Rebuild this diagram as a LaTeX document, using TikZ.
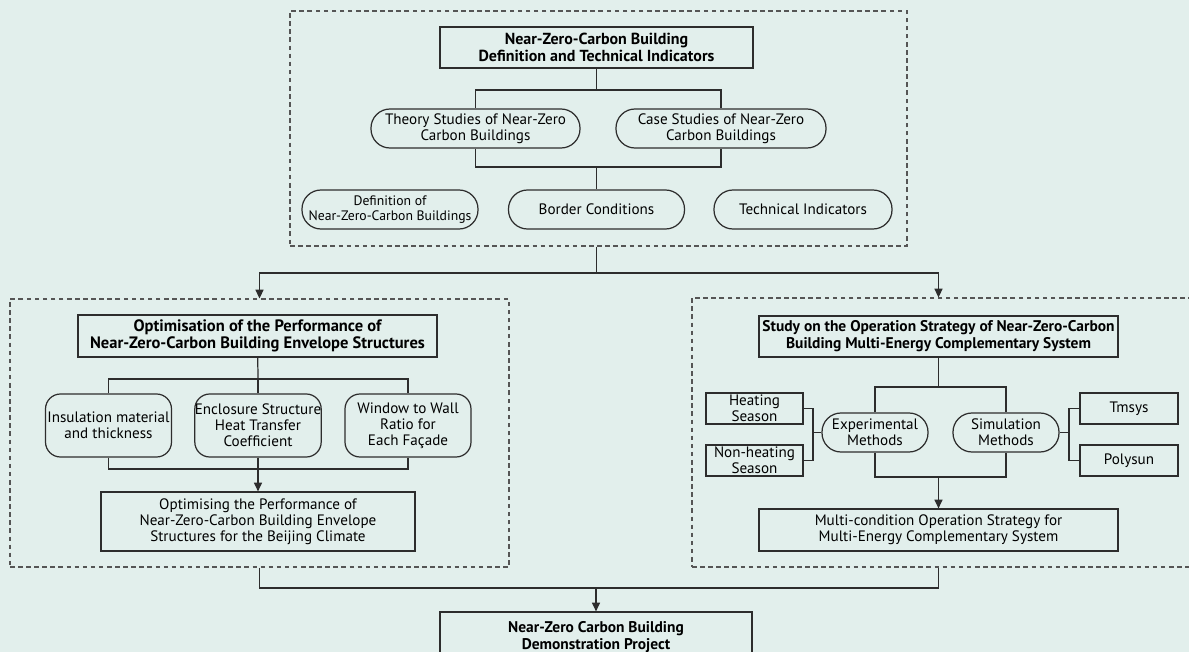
\documentclass[tikz,border=0pt]{standalone}
\usepackage{fontspec}
\setmainfont{PT Sans}
\usetikzlibrary{arrows.meta}
\definecolor{bgmint}{RGB}{226,239,236}
\definecolor{inkgray}{RGB}{45,45,45}
\definecolor{dashgray}{RGB}{85,85,85}
\tikzset{
    frame/.style={draw=dashgray, line width=0.6pt, dash pattern=on 2.6pt off 2pt, inner sep=0pt},
    headbox/.style={draw=inkgray, line width=0.7pt, align=center, inner sep=0pt, font=\bfseries\fontsize{8.8}{9.6}\selectfont},
    plainbox/.style={draw=inkgray, line width=0.7pt, align=center, inner sep=0pt, font=\fontsize{8.6}{9}\selectfont},
    pill/.style={plainbox, rounded corners=3.8mm, minimum height=7.8mm},
    roundbox/.style={plainbox, rounded corners=3mm, minimum width=25.2mm, minimum height=12.6mm},
    link/.style={draw=inkgray, line width=0.7pt},
    arr/.style={link, -{Triangle[length=5pt,width=4.6pt]}}
}
\begin{document}
\begin{tikzpicture}[x=0.2mm, y=-0.2mm]
    \useasboundingbox (0,0) rectangle (1189,652);
    \clip (0,0) rectangle (1189,652);
    \fill[bgmint] (0,0) rectangle (1189,652);
    \node[frame, minimum width=123.4mm, minimum height=47mm] (topframe) at (598.5,128.5) {};
    \node[frame, minimum width=99.8mm, minimum height=53.6mm] (leftframe) at (259.5,433) {};
    \node[frame, minimum width=101.6mm, minimum height=53.8mm] (rightframe) at (946,432.5) {};
    \node[headbox, font=\bfseries\fontsize{9.1}{9.6}\selectfont, minimum width=62.6mm, minimum height=8.2mm] (nzcb) at (596.5,47.5) {Near-Zero-Carbon Building\\Definition and Technical Indicators};
    \node[pill, minimum width=41.8mm] (theory) at (475.5,128.5) {Theory Studies of Near-Zero\\Carbon Buildings};
    \node[pill, minimum width=42mm] (case) at (721,128.5) {Case Studies of Near-Zero\\Carbon Buildings};
    \node[pill, font=\fontsize{7.8}{8.4}\selectfont, minimum width=35.2mm] (defn) at (390,209.5) {Definition of\\Near-Zero-Carbon Buildings};
    \node[pill, minimum width=35.2mm] (border) at (596.5,209.5) {Border Conditions};
    \node[pill, minimum width=35.6mm] (techind) at (803,209.5) {Technical Indicators};
    \node[headbox, font=\bfseries\fontsize{9.4}{9.8}\selectfont, minimum width=71.8mm, minimum height=8.4mm] (envtitle) at (257.5,336) {Optimisation of the Performance of\\Near-Zero-Carbon Building Envelope Structures};
    \node[roundbox] (insul) at (108.5,425.5) {Insulation material\\and thickness};
    \node[roundbox] (encl) at (258,425.5) {Enclosure Structure\\Heat Transfer\\Coefficient};
    \node[roundbox] (window) at (408,425.5) {Window to Wall\\Ratio for\\Each Façade};
    \node[plainbox, minimum width=62.8mm, minimum height=11.8mm] (envopt) at (258,521.5) {Optimising the Performance of\\Near-Zero-Carbon Building Envelope\\Structures for the Beijing Climate};
    \node[headbox, minimum width=71.8mm, minimum height=8.2mm] (systitle) at (938.5,336.5) {Study on the Operation Strategy of Near-Zero-Carbon\\Building Multi-Energy Complementary System};
    \node[pill, minimum width=21.2mm] (exper) at (875,432.5) {Experimental\\Methods};
    \node[pill, minimum width=21.2mm] (simul) at (1006,432.5) {Simulation\\Methods};
    \node[plainbox, minimum width=19.4mm, minimum height=6.2mm] (heat) at (754.5,408.5) {Heating\\Season};
    \node[plainbox, minimum width=19.4mm, minimum height=6.2mm] (nonheat) at (754.5,460.5) {Non-heating\\Season};
    \node[plainbox, minimum width=19.6mm, minimum height=6.2mm] (tmsys) at (1129,408.5) {Tmsys};
    \node[plainbox, minimum width=19.6mm, minimum height=6.2mm] (polysun) at (1129,460.5) {Polysun};
    \node[plainbox, minimum width=71.8mm, minimum height=8.4mm] (strategy) at (938.5,530) {Multi-condition Operation Strategy for\\Multi-Energy Complementary System};
    \node[headbox, minimum width=62.4mm, minimum height=10mm] (demo) at (596,637) {Near-Zero Carbon Building\\Demonstration Project};
    \coordinate (topfork) at (596.5,90);
    \coordinate (topjoin) at (596.5,167);
    \coordinate (split) at (596.5,273);
    \coordinate (envfork) at (258,379);
    \coordinate (envjoin) at (258,469);
    \coordinate (sysfork) at (938.5,387);
    \coordinate (sysjoin) at (938.5,477);
    \coordinate (seasonbar) at (813,432.5);
    \coordinate (toolbar) at (1069,432.5);
    \coordinate (merge) at (596,588);
    \draw[link] (nzcb) -- (topfork);
    \draw[link] (theory) |- (topfork) -| (case);
    \draw[link] (theory) |- (topjoin) -| (case);
    \draw[link] (topjoin) -- (border);
    \draw[link] (topframe.south -| split) -- (split);
    \draw[arr] (split) -| (leftframe.north);
    \draw[arr] (split) -| (rightframe.north -| systitle);
    \draw[link] (envtitle) -- (envfork);
    \draw[link] (insul) |- (envfork) -| (window);
    \draw[link] (envfork) -- (encl);
    \draw[link] (insul) |- (envjoin) -| (window);
    \draw[link] (encl) -- (envjoin);
    \draw[arr] (envjoin) -- (envopt);
    \draw[link] (systitle) -- (sysfork);
    \draw[link] (exper) |- (sysfork) -| (simul);
    \draw[link] (exper) |- (sysjoin) -| (simul);
    \draw[arr] (sysjoin) -- (strategy);
    \draw[link] (heat.east) -| (seasonbar) |- (nonheat.east);
    \draw[link] (seasonbar) -- (exper);
    \draw[link] (tmsys.west) -| (toolbar) |- (polysun.west);
    \draw[link] (toolbar) -- (simul);
    \draw[link] (leftframe.south) |- (merge) -| (rightframe.south -| systitle);
    \draw[arr] (merge) -- (demo);
\end{tikzpicture}
\end{document}
